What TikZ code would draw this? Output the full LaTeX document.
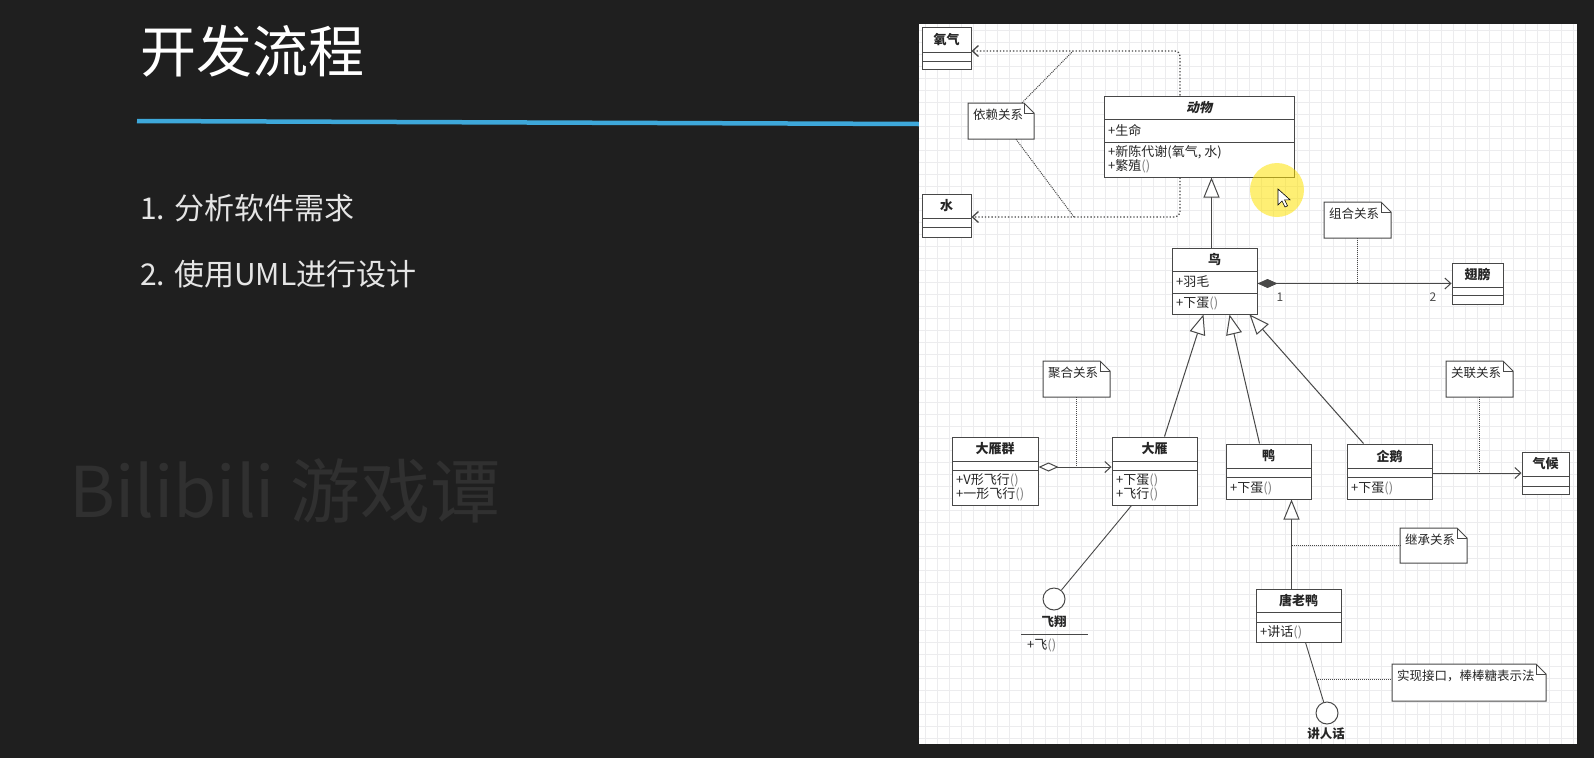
\documentclass[tikz,border=0pt]{standalone}
\usepackage{fontspec}
\setmainfont{Noto Sans CJK SC}
\newfontfamily\slantfont{Noto Sans CJK SC}[FakeSlant=0.2]
\usetikzlibrary{arrows.meta,fit,calc}

\definecolor{board}{RGB}{31,31,31}
\definecolor{chalkblue}{RGB}{62,168,218}
\definecolor{umlline}{RGB}{72,72,72}
\definecolor{gridgray}{RGB}{236,236,238}
\definecolor{marktext}{RGB}{48,48,48}

\newcommand{\emptyparen}{\textcolor{black!50}{()}}

% name, x1, y1, x2, y2, divider 1, divider 2, title
\newcommand{\umlclass}[8]{%
  \node[classbox, fit={(#2,#3) (#4,#5)}] (#1) {};
  \draw[classline] (#2,#6) -- (#4,#6);
  \draw[classline] (#2,#7) -- (#4,#7);
  \node[classname] (#1-t) at ({(#2+#4)/2},{(#3+#6)/2}) {#8};
  \coordinate (#1-a) at (#2+4,{(#6+#7)/2});
  \coordinate (#1-o) at (#2+4,{(#7+#5)/2});
}
% name, x1, y1, x2, y2, text
\newcommand{\umlnote}[6]{%
  \draw[classbox] (#2,#3) -- (#4-10,#3) -- (#4,#3+10) -- (#4,#5) -- (#2,#5) -- cycle;
  \draw[classline] (#4-10,#3) -- (#4-10,#3+10) -- (#4,#3+10);
  \node[fit={(#2,#3) (#4,#5)}, inner sep=0pt] (#1) {};
  \node[notetext] (#1-t) at (#2+5,#3+6) {#6};
}

\tikzset{
  classbox/.style={draw=umlline, line width=1pt, fill=white, inner sep=0pt},
  classline/.style={draw=umlline, line width=0.9pt},
  classname/.style={font=\fontsize{13}{15}\selectfont\bfseries, inner sep=0pt, text=black!85},
  member/.style={font=\fontsize{13}{14}\selectfont, anchor=west, align=left, inner sep=0pt, text=black!85},
  notetext/.style={font=\fontsize{12.5}{14}\selectfont, anchor=north west, inner sep=0pt, text=black!85},
  mult/.style={font=\fontsize{12}{14}\selectfont, inner sep=0pt, text=black!70},
  dep/.style={umlline, line width=1.3pt, dotted, rounded corners=5pt, -{Straight Barb[length=6pt,width=11pt]}},
  gen/.style={umlline, line width=1pt, -{Triangle[open, fill=white, length=20pt, width=16pt]}},
  comp/.style={umlline, line width=1pt, {Diamond[length=20pt, width=9pt]}-{Straight Barb[length=6pt,width=11pt]}},
  agg/.style={umlline, line width=1pt, {Diamond[open, fill=white, length=20pt, width=9pt]}-{Straight Barb[length=6pt,width=11pt]}},
  assoc/.style={umlline, line width=1pt, -{Straight Barb[length=6pt,width=11pt]}},
  notelink/.style={umlline, line width=1pt, densely dotted},
  lolli/.style={umlline, line width=0.9pt},
  iface/.style={circle, draw=umlline, line width=1pt, fill=white, minimum size=22pt, inner sep=0pt},
  iname/.style={font=\fontsize{12.5}{14}\selectfont\bfseries, inner sep=0pt, text=black!85},
  gridline/.style={gridgray, line width=0.6pt},
  titletext/.style={font=\fontsize{56}{60}\selectfont, text=white, inner sep=0pt, anchor=west},
  pointtext/.style={font=\fontsize{30}{34}\selectfont, text=white!90!black, inner sep=0pt, anchor=west},
  watermark/.style={font=\fontsize{70}{76}\selectfont, text=marktext, inner sep=0pt, anchor=west},
}

\begin{document}
\begin{tikzpicture}[x=1pt, y=-1pt]
  %%%%% BOARD %%%%%
  \useasboundingbox (0,0) rectangle (1594,758);
  \fill[board] (0,0) rectangle (1594,758);

  \node[titletext] (title) at (140,51) {开发流程};
  \draw[chalkblue, line width=4.5pt] (137,121) -- (919,124);
  \node[pointtext] (point1) at (140,208) {1. 分析软件需求};
  \node[pointtext] (point2) at (140,274) {2. 使用UML进行设计};
  \node[watermark] (mark) at (69,491) {Bilibili 游戏谭};

  %%%%% PANEL %%%%%
  \fill[white] (919,24) rectangle (1577,744);
  \foreach \gx in {925,937,...,1573} \draw[gridline] (\gx,24) -- (\gx,744);
  \foreach \gy in {30,42,...,740} \draw[gridline] (919,\gy) -- (1577,\gy);

  %%%%% CLASSES %%%%%
  \umlclass{oxygen}{922}{27}{971}{69}{52}{61}{氧气}
  \umlclass{water}{922}{194}{971}{237}{218}{227}{水}

  \umlclass{animal}{1104}{96}{1294}{177}{119}{142}{\slantfont 动物}
  \node[member] (animal-attr) at (animal-a) {+生命};
  \node[member] (animal-ops) at (animal-o) {+新陈代谢(氧气, 水)\\+繁殖\emptyparen};

  \umlclass{bird}{1172}{248}{1257}{314}{271}{293}{鸟}
  \node[member] (bird-attr) at (bird-a) {+羽毛};
  \node[member] (bird-ops) at (bird-o) {+下蛋\emptyparen};

  \umlclass{wing}{1452}{263}{1503}{304}{287}{295}{翅膀}

  \umlclass{flock}{952}{437}{1038}{505}{461}{470}{大雁群}
  \node[member] (flock-ops) at (flock-o) {+V形飞行\emptyparen\\+一形飞行\emptyparen};

  \umlclass{goose}{1112}{437}{1197}{505}{461}{470}{大雁}
  \node[member] (goose-ops) at (goose-o) {+下蛋\emptyparen\\+飞行\emptyparen};

  \umlclass{duck}{1226}{444}{1311}{499}{468}{477}{鸭}
  \node[member] (duck-ops) at (duck-o) {+下蛋\emptyparen};

  \umlclass{penguin}{1347}{444}{1432}{499}{468}{477}{企鹅}
  \node[member] (penguin-ops) at (penguin-o) {+下蛋\emptyparen};

  \umlclass{climate}{1522}{452}{1569}{494}{476}{486}{气候}

  \umlclass{tang}{1256}{589}{1341}{642}{612}{622}{唐老鸭}
  \node[member] (tang-ops) at (tang-o) {+讲话\emptyparen};

  %%%%% INTERFACES %%%%%
  \node[iface] (fly) at (1054,599) {};
  \node[iname] (fly-t) at (1054,622) {飞翔};
  \draw[classline] (1021,634) -- (1088,634);
  \node[member] (fly-ops) at (1027,645) {+飞\emptyparen};

  \node[iface] (talk) at (1327,713) {};
  \node[iname] (talk-t) at (1326,734) {讲人话};

  %%%%% NOTES %%%%%
  \umlnote{n-dep}{968}{103}{1034}{139}{依赖关系}
  \umlnote{n-comp}{1324}{202}{1391}{238}{组合关系}
  \umlnote{n-agg}{1043}{361}{1110}{397}{聚合关系}
  \umlnote{n-assoc}{1446}{361}{1513}{397}{关联关系}
  \umlnote{n-inh}{1400}{528}{1467}{563}{继承关系}
  \umlnote{n-impl}{1392}{664}{1546}{701}{实现接口，棒棒糖表示法}

  %%%%% RELATIONS %%%%%
  \draw[dep] ([xshift=-19pt]animal.north) |- ([yshift=-3pt]oxygen.east);
  \draw[dep] ([xshift=-19pt]animal.south) |- ([yshift=-1.5pt]water.east);
  \coordinate (dep-top) at (1073,51);
  \coordinate (dep-bot) at (1074,217);
  \draw[notelink] ([xshift=21pt]n-dep.north) -- (dep-top);
  \draw[notelink] ([xshift=15pt]n-dep.south) -- (dep-bot);

  \draw[gen] ([xshift=-3pt]bird.north) -- ([xshift=-3pt]bird.north |- animal.south);

  \draw[comp] (wing.west -| bird.east) -- (wing.west);
  \node[mult] (mult-1) at (1280,297) {1};
  \node[mult] (mult-2) at (1433,297) {2};
  \draw[notelink] (n-comp.south) -- (n-comp.south |- wing.west);

  \draw[gen] ([xshift=10pt]goose.north) -- ([xshift=-11pt]bird.south);
  \draw[gen] ([xshift=-9pt]duck.north) -- ([xshift=15pt]bird.south);
  \draw[gen] ([xshift=-26pt]penguin.north) -- ([xshift=35pt]bird.south);

  \coordinate (agg-mid) at ([yshift=4pt]goose.west);
  \draw[agg] ([yshift=4pt]flock.east) -- (agg-mid);
  \draw[notelink] (n-agg.south) -- (n-agg.south |- agg-mid);

  \draw[assoc] (climate.west -| penguin.east) -- (climate.west);
  \draw[notelink] (n-assoc.south) -- (n-assoc.south |- climate.west);

  \coordinate (tang-in) at ([xshift=-7pt]tang.north);
  \draw[gen] (tang-in) -- (tang-in |- duck.south);
  \draw[notelink] (n-inh.west -| tang-in) -- (n-inh.west);

  \draw[lolli] ([xshift=-23pt]goose.south) -- (fly);
  \draw[lolli] ([xshift=7pt]tang.south) -- (talk);
  \coordinate (impl-pt) at (1316,679);
  \draw[notelink] (impl-pt) -- (impl-pt -| n-impl.west);

  %%%%% POINTER %%%%%
  \fill[yellow!85!orange, opacity=0.55] (1277,190) circle[radius=27pt];
  \filldraw[fill=white, draw=black, line width=0.6pt] (1278,189) -- ++(0,16) -- ++(4,-4) -- ++(3,6) -- ++(2.5,-1.2) -- ++(-3,-6) -- ++(5.5,0) -- cycle;
\end{tikzpicture}
\end{document}
